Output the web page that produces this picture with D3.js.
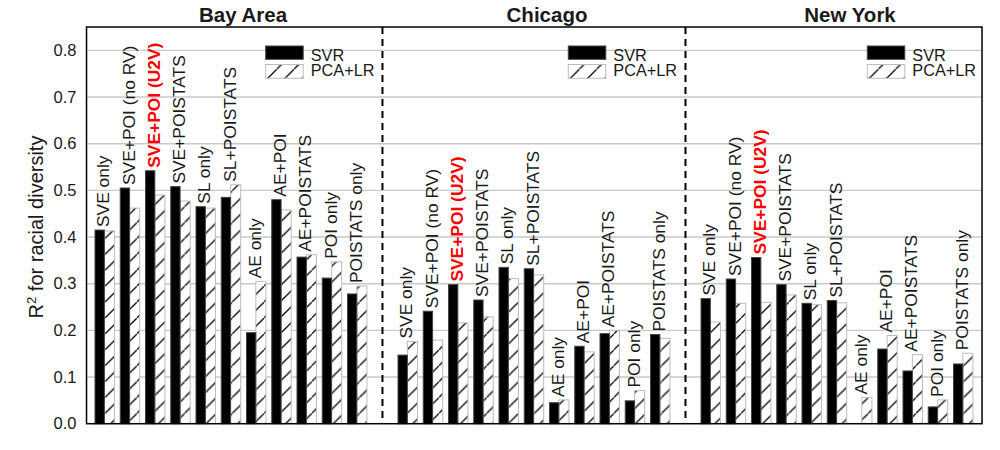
<!DOCTYPE html>
<html><head><meta charset="utf-8">
<script src="https://cdn.jsdelivr.net/npm/d3@7"></script>
<style>html,body{margin:0;padding:0;background:#fff}svg{display:block}text{font-family:"Liberation Sans",Arial,sans-serif;fill:#1a1a1a}</style>
</head><body><svg id="c" width="1000" height="450"></svg>
<script>
const cities = ["Bay Area","Chicago","New York"];
const methods = ["SVE only","SVE+POI (no RV)","SVE+POI (U2V)","SVE+POISTATS","SL only","SL+POISTATS","AE only","AE+POI","AE+POISTATS","POI only","POISTATS only"];
const yTicks = [0,0.1,0.2,0.3,0.4,0.5,0.6,0.7,0.8];
const svrBay = [0.415,0.505,0.542,0.508,0.465,0.485,0.195,0.480,0.357,0.312,0.278];
const lrBay  = [0.413,0.462,0.490,0.477,0.462,0.512,0.305,0.458,0.362,0.347,0.295];
const svrChi = [0.147,0.241,0.298,0.265,0.335,0.332,0.045,0.166,0.193,0.049,0.191];
const lrChi  = [0.176,0.179,0.216,0.229,0.311,0.319,0.051,0.154,0.200,0.071,0.183];
const svrNY  = [0.268,0.310,0.356,0.298,0.258,0.264,0.000,0.160,0.113,0.036,0.128];
const lrNY   = [0.218,0.258,0.260,0.276,0.255,0.259,0.056,0.189,0.148,0.051,0.151];
const seriesNames = ["SVR","PCA+LR"];
const svrAll = [svrBay,svrChi,svrNY], lrAll = [lrBay,lrChi,lrNY];

const svg = d3.select("#c");
const y = d3.scaleLinear().domain([0,0.85]).range([423.7,27]);
// x is measured in bar-group slots; each city takes 12 slots
const x = d3.scaleLinear().domain([0,12]).range([95,398]);
const slotL = -0.336, slotR = 35.13, dividers = [11.385,23.385];
const bw = 0.37, hw = 0.4;

const defs = svg.append("defs");
function hatch(id, s, dx){
  const p = defs.append("pattern").attr("id",id).attr("patternUnits","userSpaceOnUse")
    .attr("width",s).attr("height",s).attr("patternTransform",`translate(${dx},0)`);
  p.append("rect").attr("width",s).attr("height",s).attr("fill","#fff");
  p.append("path").attr("d",`M-1,${s+1}L${s+1},-1`).attr("stroke","#000").attr("stroke-width",1.25);
}
hatch("h",15.9,9.7);
hatch("hl",17.3,-6.2);

const L = x(slotL), R = x(slotR);
svg.append("g").selectAll("line").data(yTicks.slice(1)).join("line")
  .attr("x1",L).attr("x2",R).attr("y1",d=>y(d)).attr("y2",d=>y(d))
  .attr("stroke","#c9c9c9").attr("stroke-width",1.4);

cities.forEach((c,ci)=>{
  const g = svg.append("g");
  const pos = i => ci*12+i;
  g.selectAll(".lr").data(lrAll[ci]).join("rect")
    .attr("x",(d,i)=>x(pos(i)+bw)).attr("width",x(hw)-x(0))
    .attr("y",d=>y(d)).attr("height",d=>y(0)-y(d))
    .attr("fill","url(#h)").attr("stroke","#bdbdbd").attr("stroke-width",1);
  g.selectAll(".svr").data(svrAll[ci]).join("rect")
    .attr("x",(d,i)=>x(pos(i))).attr("width",x(bw)-x(0))
    .attr("y",d=>y(d)).attr("height",d=>y(0)-y(d))
    .attr("fill","#000").attr("stroke","#444").attr("stroke-width",1);
  g.selectAll("text").data(methods).join("text")
    .attr("transform",(m,i)=>`translate(${x(pos(i)+bw)+5},${y(Math.max(svrAll[ci][i],lrAll[ci][i]))-3}) rotate(-90)`)
    .attr("font-size",17.4).attr("text-anchor","start")
    .attr("font-weight",m=>m==="SVE+POI (U2V)"?"bold":"normal")
    .style("fill",m=>m==="SVE+POI (U2V)"?"#f00":null)
    .text(m=>m);
  svg.append("text").attr("x",[243,547,850][ci]).attr("y",22).attr("text-anchor","middle")
    .attr("font-size",20.5).attr("font-weight","bold").text(c);
  const lg = svg.append("g").attr("transform",`translate(${[265.7,568.3,867.3][ci]},0)`);
  lg.append("rect").attr("y",46).attr("width",37.5).attr("height",13.3).attr("fill","#000").attr("stroke","#444");
  lg.append("rect").attr("y",64.5).attr("width",37.5).attr("height",13.8).attr("fill","url(#hl)").attr("stroke","#bdbdbd");
  lg.append("text").attr("x",45).attr("y",61).attr("font-size",16.3).text(seriesNames[0]);
  lg.append("text").attr("x",45).attr("y",76).attr("font-size",16.3).text(seriesNames[1]);
});

dividers.forEach(d=>svg.append("line").attr("x1",x(d)).attr("x2",x(d)).attr("y1",y.range()[1]).attr("y2",y(0))
  .attr("stroke","#000").attr("stroke-width",2).attr("stroke-dasharray","7,5"));

svg.append("rect").attr("x",L).attr("y",27).attr("width",R-L).attr("height",y(0)-27).attr("fill","none").attr("stroke","#000").attr("stroke-width",1.5);

const ax = svg.append("g").attr("transform",`translate(${L},0)`)
  .call(d3.axisLeft(y).tickValues(yTicks).tickSize(0).tickPadding(10).tickFormat(d3.format(".1f")));
ax.select(".domain").remove();
ax.selectAll("text").attr("font-size",16.5).attr("font-family",null);

const yl = svg.append("text").attr("transform","translate(43,227) rotate(-90)").attr("text-anchor","middle").attr("font-size",20);
yl.append("tspan").text("R");
yl.append("tspan").attr("font-size",13).attr("dy",-7).text("2");
yl.append("tspan").attr("dy",7).text(" for racial diversity");
</script></body></html>
